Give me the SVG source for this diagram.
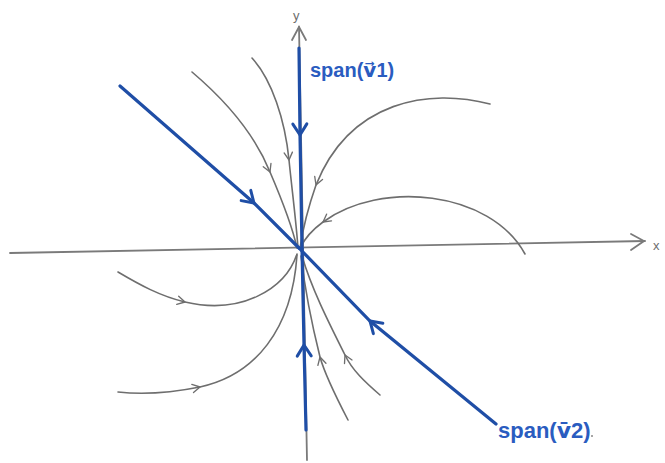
<svg xmlns="http://www.w3.org/2000/svg" width="665" height="463" viewBox="0 0 665 463">
<defs>
<marker id="ga" markerUnits="userSpaceOnUse" markerWidth="20" markerHeight="20" refX="0" refY="0" viewBox="-12 -10 24 20" orient="auto">
<path d="M-9,-5 L0,0 L-9,5" fill="none" stroke="#6e6e6e" stroke-width="1.6" stroke-linecap="round" stroke-linejoin="round"/>
</marker>
<marker id="ba" markerUnits="userSpaceOnUse" markerWidth="30" markerHeight="30" refX="0" refY="0" viewBox="-15 -15 30 30" orient="auto">
<path d="M-11,-7 L0,0 L-11,7" fill="none" stroke="#1f4ea6" stroke-width="3" stroke-linecap="round" stroke-linejoin="round"/>
</marker>
</defs>
<style>
.axis{fill:none;stroke:#7a7a7a;stroke-width:1.8;stroke-linecap:round}
.traj{fill:none;stroke:#6e6e6e;stroke-width:1.6;stroke-linecap:round;marker-mid:url(#ga)}
.eig{fill:none;stroke:#1f4ea6;stroke-width:3.2;stroke-linecap:round;marker-mid:url(#ba)}
.lbl{font-family:"Liberation Sans Narrow","Liberation Sans",sans-serif;font-size:22px;fill:#2a5cc0;font-weight:bold}
.vec{font-family:"DejaVu Sans",sans-serif}
.ax{font-family:"Liberation Sans",sans-serif;font-size:13px;fill:#6e6e6e}
</style>
<g id="axes">
<path class="axis" d="M10,253 L645,241"/>
<path class="axis" d="M631,234 L644,241 L631,250"/>
<path class="axis" d="M299,27 L307,460"/>
<path class="axis" d="M292,40 L299,27 L306,40"/>
<text class="ax" x="653" y="250">x</text>
<text class="ax" x="293" y="20">y</text>
</g>
<g id="trajectories">
<path class="traj" d="M192,72 C225,100 255,135 270,172 C282,200 292,225 297,248"/>
<path class="traj" d="M252,58 C272,80 285,120 289,160 C292,190 296,220 298,248"/>
<path class="traj" d="M490,104 C430,88 350,100 316,185 C309,205 303,228 300,248"/>
<path class="traj" d="M525,254 C490,190 380,180 323,222 C312,230 304,240 300,248"/>
<path class="traj" d="M118,272 C140,285 160,296 185,302 C240,315 285,290 297,254"/>
<path class="traj" d="M118,392 C145,395 175,392 200,387 C255,375 292,330 297,255"/>
<path class="traj" d="M348,420 C335,395 325,375 320,357 C312,325 305,290 301,256"/>
<path class="traj" d="M380,395 C365,382 352,370 345,355 C330,325 312,290 302,256"/>
</g>
<g id="eigenlines">
<path class="eig" d="M299,48 L300,135 L302,248"/>
<path class="eig" d="M306,430 L304,345 L302,248"/>
<path class="eig" d="M120,86 L254,203 L299,248"/>
<path class="eig" d="M496,424 L370,321 L299,248"/>
</g>
<g id="labels">
<text class="lbl" x="310" y="77" style="font-size:20px">span(<tspan class="vec">v⃗</tspan>1)</text>
<text class="lbl" x="498" y="438">span(<tspan class="vec">v̄</tspan>2)</text>
<circle cx="592" cy="436" r="1" fill="#888"/>
</g>
</svg>
